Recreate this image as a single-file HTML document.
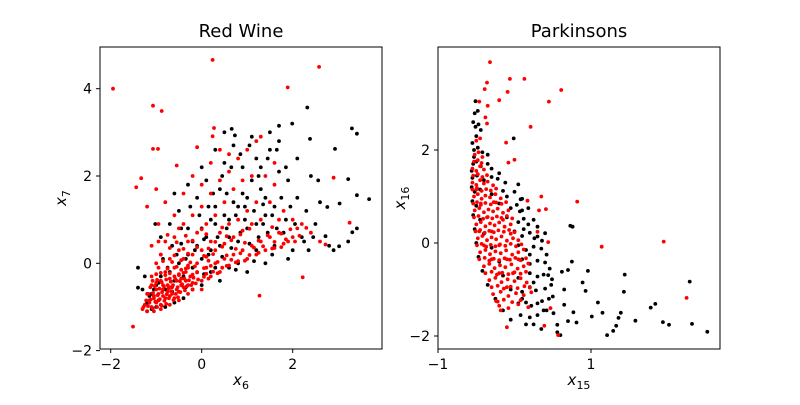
<!DOCTYPE html>
<html><head><meta charset="utf-8"><style>
body{margin:0;background:#fff;width:800px;height:400px;overflow:hidden}
svg text{font-family:"DejaVu Sans","Liberation Sans",sans-serif;fill:#000}
</style></head><body>
<svg id="chart" width="800" height="400"></svg>
<script>
// Red Wine panel data (x6, x7)
const wineBlack = [[-1.2,-0.9],[-1.1,-0.7],[-1.0,-0.5],[-0.9,-0.3],[-0.8,-0.6],[-0.7,-0.2],[-0.6,-0.4],[-0.5,0.0],[-0.4,-0.3],[-0.3,0.2],[-0.2,-0.1],[-0.1,0.4],[0,0.1],[0.1,0.6],[0.2,0.3],[0.3,0.9],[0.4,0.4],[0.5,1.1],[0.6,0.6],[0.7,1.4],[0.8,0.5],[0.9,1.6],[1.0,0.8],[1.1,1.9],[1.2,0.9],[1.3,2.2],[1.4,1.1],[1.5,2.6],[1.6,1.3],[1.7,2.1],
[-0.9,0.6],[-0.7,0.9],[-0.5,1.2],[-0.3,0.8],[-0.1,1.5],[0.1,1.9],[0.3,1.3],[0.5,2.3],[0.7,2.7],[0.9,2.2],[1.1,2.9],[1.3,1.7],[1.5,3.0],[1.7,2.8],[1.9,1.9],[2.1,1.5],[2.3,1.2],[2.5,0.9],[2.2,0.6],[2.0,0.3],[1.8,0.7],[1.6,0.4],[1.4,0.0],[1.2,0.3],[1.0,-0.2],[0.8,0.0],[0.6,-0.1],[0.4,-0.4],[0.2,-0.2],[0,-0.5],[-0.2,-0.6],[-0.4,-0.8],[-0.6,-0.9],[-0.8,-1.0],[-1.0,-1.0],[-1.2,-1.1],[-1.3,-0.6],[-1.25,-0.3],
[0.0,0.8],[-0.2,0.5],[0.2,1.0],[0.4,1.7],[0.6,1.0],[0.8,1.3],[1.0,1.5],[1.2,2.4],[1.4,1.5],[2.4,2.0],[2.6,1.4],[2.8,0.4],[2.9,0.3],[1.9,0.1],[2.1,2.4],[0.3,2.6],[0.5,3.0],[-0.6,1.6],[-0.3,1.8],[0.0,2.2],
[3.68,1.47],[3.3,3.09],[3.41,2.97],[2.32,3.57],[2.93,2.62],[3.22,1.93],[3.41,1.56],[3.41,0.8],[3.31,0.71],[3.02,0.39],[3.22,0.5],[2.76,1.29],[3.03,1.37],[2.56,1.9],[2.72,0.62],[-1.4,-0.56],[-1.4,-0.1],[-1.02,0.9],[1.99,3.2],[1.7,3.15],[0.66,3.08],[0.73,2.93],[2.38,2.85],
[-1.15,-0.75],[-1.05,-0.6],[-0.95,-0.45],[-0.75,-0.1],[-0.55,0.2],[-0.45,0.45],[-0.35,0.1],[-0.15,0.3],[0.05,0.55],[0.15,0.2],[0.35,0.6],[0.45,0.15],[0.55,0.8],[0.65,0.35],[0.75,1.1],[0.85,0.7],[0.95,1.3],[1.05,0.45],[1.15,1.2],[1.25,0.6],[1.35,1.35],[1.45,0.7],[1.55,1.1],[1.65,0.8],[1.75,1.5],[1.85,1.0],[1.95,1.3],[2.05,0.9],[2.25,0.5],[2.45,0.6],[0.25,1.6],[0.45,2.0],[0.65,2.2],[0.85,2.5],[1.05,2.7],[1.25,2.0],[1.45,2.4],[1.65,2.6],[1.85,2.2],[0.15,1.3],[-0.05,1.1],[-0.25,1.3],[-0.45,0.8],[-0.65,0.4],[-0.85,0.1],[0.55,1.6],[0.95,1.0],[1.35,0.9],[0.75,-0.15],[1.15,0.05],[1.55,0.2],[2.35,0.3],[0.05,-0.25],[-0.35,-0.55],[-0.65,-0.65],[-0.95,-0.85],[-1.1,-1.05],[0.3,-0.1]];
const wineRed = [[-1.3,-1.05],[-1.25,-0.95],[-1.2,-1.1],[-1.15,-0.85],[-1.1,-1.0],[-1.05,-0.8],[-1.0,-0.9],[-0.95,-0.7],[-0.9,-0.95],[-0.85,-0.6],[-0.8,-0.8],[-0.75,-0.5],[-0.7,-0.75],[-0.65,-0.55],[-0.6,-0.8],[-0.55,-0.4],[-0.5,-0.65],[-0.45,-0.35],[-0.4,-0.55],[-0.35,-0.2],[-0.3,-0.5],[-0.25,-0.3],[-0.2,-0.45],[-0.1,-0.2],[0,-0.4],[0.1,-0.1],[0.2,-0.3],[0.3,0.0],[0.4,-0.2],[0.5,0.1],[0.6,-0.05],[0.7,0.2],[0.8,0.05],[0.9,0.3],[1.0,0.1],[1.1,0.4],[1.2,0.2],[1.3,0.5],[1.4,0.3],[1.5,0.6],[1.6,0.35],[1.7,0.7],[1.8,0.45],[1.9,0.5],[2.0,0.6],[2.1,0.8],
[-1.2,-0.7],[-1.1,-0.5],[-1.0,-0.6],[-0.9,-0.4],[-0.8,-0.2],[-0.7,-0.35],[-0.6,-0.1],[-0.5,-0.25],[-0.4,0.1],[-0.3,-0.05],[-0.2,0.2],[-0.1,0.0],[0,0.3],[0.1,0.15],[0.2,0.5],[0.3,0.3],[0.4,0.7],[0.5,0.45],[0.6,0.9],[0.7,0.6],[0.8,1.0],[0.9,0.75],[1.0,1.2],[1.1,0.9],[1.2,1.4],[1.3,1.0],
[-1.1,-0.3],[-1.0,0.0],[-0.9,0.2],[-0.8,0.5],[-0.7,0.1],[-0.6,0.6],[-0.5,0.3],[-0.4,0.9],[-0.3,0.5],[-0.2,1.1],[-0.1,0.7],[0,1.3],[0.1,0.9],[0.2,1.6],[0.3,1.1],[0.4,1.9],[0.5,1.4],[0.6,2.1],[0.7,1.7],[0.8,2.4],[0.9,1.9],[1.0,2.6],[1.1,2.0],[1.2,2.8],[1.4,2.0],[1.6,1.8],[1.8,1.2],[2.0,1.0],[2.2,0.9],[2.4,0.7],[2.6,0.5],[1.5,1.4],[1.7,1.0],
[-1.2,1.3],[-1.0,1.7],[-0.8,1.4],[-0.6,1.1],[-0.4,1.6],[-0.2,2.0],[0,1.8],[0.2,2.3],[0.4,2.6],[0.6,2.5],[1.3,2.9],[1.6,2.3],[-1.1,0.4],[-0.95,0.9],[-0.3,-0.7],[-0.5,-0.85],[-0.7,-0.95],[-0.9,-1.05],[-1.05,-1.1],[-0.2,-0.6],[0.0,-0.6],
[-1.15,-0.9],[-1.05,-0.75],[-0.95,-0.85],[-0.85,-0.75],[-0.75,-0.65],[-0.65,-0.7],[-0.55,-0.6],[-0.45,-0.5],[-0.35,-0.4],[-1.0,-0.45],[-0.85,-0.5],[-0.7,-0.55],[-0.6,-0.3],[-0.45,-0.15],[-0.3,-0.1],
[-1.95,4.0],[0.24,4.66],[2.58,4.5],[1.89,4.03],[-1.07,3.61],[-0.88,3.49],[-1.07,2.62],[-0.96,2.62],[-0.1,2.66],[0.27,3.1],[0.24,2.91],[-1.44,1.74],[-1.33,1.95],[-0.55,2.24],[2.9,1.96],[3.25,0.93],[2.22,-0.32],[1.27,-0.74],[-1.51,-1.45],[2.72,0.43],
[-1.28,-1.0],[-1.18,-0.98],[-1.08,-1.03],[-0.98,-1.0],[-0.88,-0.97],[-0.78,-0.93],
[-1.22,-0.85],[-1.12,-0.83],[-1.02,-0.88],[-0.92,-0.82],[-0.82,-0.86],[-0.72,-0.8],[-0.62,-0.84],[-0.52,-0.78],
[-1.17,-0.7],[-1.07,-0.68],[-0.97,-0.73],[-0.87,-0.66],[-0.77,-0.71],[-0.67,-0.64],[-0.57,-0.7],[-0.47,-0.66],[-0.37,-0.62],
[-1.13,-0.55],[-1.03,-0.52],[-0.93,-0.58],[-0.83,-0.53],[-0.73,-0.57],[-0.63,-0.5],[-0.53,-0.55],[-0.43,-0.48],[-0.33,-0.53],[-0.23,-0.5],[-0.13,-0.46],
[-1.08,-0.4],[-0.98,-0.38],[-0.88,-0.43],[-0.78,-0.37],[-0.68,-0.42],[-0.58,-0.36],[-0.48,-0.41],[-0.38,-0.35],[-0.28,-0.39],[-0.18,-0.33],[-0.08,-0.37],[0.05,-0.31],[0.15,-0.35],
[-1.0,-0.25],[-0.9,-0.22],[-0.8,-0.27],[-0.7,-0.23],[-0.5,-0.27],[-0.4,-0.22],[-0.2,-0.26],[-0.1,-0.21],[0.1,-0.24],[0.25,-0.19],[0.35,-0.23],
[-0.95,-0.1],[-0.75,-0.12],[-0.55,-0.08],[-0.35,-0.12],[-0.15,-0.07],[0.05,-0.11],[0.2,-0.06],[0.45,-0.1],[0.55,-0.06],
[-0.85,0.05],[-0.65,0.03],[-0.45,0.07],[-0.25,0.02],[0.15,0.06],[0.35,0.03],[0.65,0.08],[0.75,0.02],[0.95,0.06],
[-0.9,0.2],[-0.6,0.18],[-0.3,0.22],[0.05,0.17],[0.25,0.21],[0.55,0.18],[0.85,0.23],[1.05,0.19],[1.25,0.24],
[-0.7,0.35],[-0.4,0.33],[-0.1,0.37],[0.15,0.34],[0.45,0.38],[0.75,0.33],[1.15,0.36],[1.35,0.39],[1.55,0.34],[1.75,0.37],
[-0.95,0.5],[-0.55,0.48],[-0.2,0.52],[0.3,0.49],[0.65,0.53],[0.95,0.47],[1.25,0.52],[1.6,0.49],[1.85,0.55],[2.05,0.5],
[-0.75,0.65],[-0.35,0.63],[0.1,0.67],[0.55,0.62],[0.85,0.66],[1.45,0.64],[1.75,0.68],[2.15,0.63],
[-0.5,0.8],[0.0,0.78],[0.45,0.82],[1.05,0.79],[1.55,0.83],[1.95,0.78],[2.3,0.81]];
// Parkinsons panel data (x15, x16)
const parkBlack = [[-0.51,3.05],[-0.52,2.79],[-0.48,2.84],[-0.51,2.5],[-0.44,2.43],[-0.01,2.25],[0.05,1.26],[0.08,0.94],[0.07,0.68],[0.4,0.21],[0.3,0.14],[0.76,0.35],
[2.52,-1.91],[2.32,-1.74],[2.29,-0.83],[2.02,-1.76],[1.94,-1.7],[1.84,-1.31],[1.78,-1.39],[1.58,-1.67],[1.44,-0.68],[1.43,-1.05],[1.39,-1.5],[1.36,-1.61],[1.33,-1.78],[1.29,-1.89],[1.21,-1.98],[1.15,-1.5],[1.09,-1.28],[1.01,-1.58],[0.96,-0.6],[0.93,-1.03],[0.89,-0.85],[0.81,-1.71],[0.77,-1.49],[0.75,-0.4],[0.73,0.37],[0.7,-1.68],[0.65,-1.33],[0.65,-1.0],[0.7,-0.58],[0.62,-0.62],[0.6,-1.98],[0.56,-1.92],[0.56,-1.76],[0.51,-1.51],[0.5,-1.15],[0.49,-0.78],[0.44,-0.69],
[-0.53,2.0],[-0.48,2.05],[-0.42,1.95],[-0.54,1.7],[-0.5,1.75],[-0.44,1.65],[-0.35,1.7],[-0.55,1.4],[-0.49,1.45],[-0.4,1.35],[-0.3,1.42],[-0.22,1.38],[-0.52,1.1],[-0.45,1.15],[-0.3,1.05],[-0.15,1.12],[-0.1,1.0],[-0.5,0.8],[-0.2,0.85],[-0.05,0.75],[0.03,0.82],[0.1,0.7],[-0.45,0.5],[-0.1,0.55],[0.05,0.45],[0.12,0.52],[0.18,0.4],[-0.4,0.2],[0,0.25],[0.1,0.15],[0.2,0.22],[0.26,0.1],[-0.3,-0.1],[0.05,-0.05],[0.15,-0.15],[0.25,-0.08],[0.35,-0.12],[-0.2,-0.4],[0.1,-0.35],[0.2,-0.45],[0.3,-0.38],[0.4,-0.42],[-0.15,-0.7],[0.05,-0.75],[0.2,-0.65],[0.3,-0.72],[0.38,-0.68],[-0.05,-1.0],[0.1,-1.05],[0.2,-0.95],[0.28,-1.02],[0.4,-0.98],[0.05,-1.3],[0.15,-1.28],[0.22,-1.35],[0.3,-1.3],[0.36,-1.25],[0.2,-1.6],[0.3,-1.55],[0.42,-1.45],[0.35,-1.85],
[-0.54,2.6],[-0.5,2.3],[-0.55,2.15],[-0.47,2.55],[-0.53,1.85],[-0.56,1.55],[-0.56,1.2],[-0.55,0.9],[-0.54,0.6],[-0.52,0.3],[-0.5,0.0],[-0.47,-0.3],[-0.42,-0.6],[-0.35,-0.9],[-0.25,-1.2],[-0.15,-1.45],[-0.05,-1.65],[0.08,-1.55],[0.15,-1.75],[0.25,-1.75],[-0.12,1.3],[0.0,1.1],[0.1,0.95],[0.18,0.75],[0.25,0.5],[0.3,0.35],[0.36,0.05],[0.42,-0.25],[0.46,-0.55],[0.48,-0.9],[0.45,-1.2],[0.38,-1.45],[0.12,0.3],[0.2,-0.25],[0.25,-0.85],[0.1,-1.2],[-0.3,1.6],[-0.2,1.5],[-0.35,1.9]];
const parkRed = [[1.95,0.03],[2.25,-1.18],[1.14,-0.08],[0.82,0.89],[0.61,3.29],[0.45,3.04],[0.21,2.5],[0.13,3.53],[-0.06,3.53],[-0.32,3.89],[-0.09,3.25],[-0.2,3.07],[-0.36,3.45],[-0.39,3.31],[-0.46,3.04],[-0.35,2.95],[-0.38,2.7],[-0.36,2.57],[-0.11,2.16],[0,1.79],[-0.08,1.73],[0.35,1.0],[0.41,0.73],[0.32,0.7],[0.17,0.91],[0.3,0.24],[0.44,0.02],[-0.1,-1.81],[-0.18,-1.45],[-0.22,-1.26],[0.57,-1.98],[0.39,-1.78],[0.47,-1.4],
[-0.5,2.2],[-0.45,2.25],[-0.52,1.9],[-0.47,1.95],[-0.42,1.85],[-0.55,1.6],[-0.5,1.55],[-0.45,1.65],[-0.4,1.58],
[-0.55,1.3],[-0.5,1.25],[-0.45,1.35],[-0.4,1.28],[-0.35,1.32],[-0.28,1.24],
[-0.53,1.0],[-0.48,1.05],[-0.43,0.95],[-0.38,1.02],[-0.32,0.98],[-0.25,1.05],[-0.18,0.96],
[-0.52,0.7],[-0.46,0.75],[-0.4,0.66],[-0.34,0.72],[-0.28,0.68],[-0.22,0.74],[-0.15,0.65],[-0.08,0.7],
[-0.5,0.4],[-0.44,0.45],[-0.38,0.36],[-0.32,0.42],[-0.26,0.38],[-0.2,0.44],[-0.13,0.35],[-0.05,0.4],
[-0.48,0.1],[-0.42,0.15],[-0.36,0.06],[-0.3,0.12],[-0.24,0.08],[-0.17,0.14],[-0.1,0.05],[-0.02,0.1],[0.05,0.06],
[-0.45,-0.2],[-0.38,-0.15],[-0.32,-0.24],[-0.25,-0.18],[-0.18,-0.22],[-0.11,-0.16],[-0.03,-0.25],[0.05,-0.2],[0.12,-0.14],
[-0.4,-0.5],[-0.33,-0.45],[-0.26,-0.54],[-0.19,-0.48],[-0.12,-0.52],[-0.04,-0.46],[0.04,-0.55],[0.12,-0.5],[0.18,-0.44],
[-0.33,-0.8],[-0.25,-0.75],[-0.17,-0.84],[-0.09,-0.78],[0,-0.82],[0.08,-0.76],[0.16,-0.85],
[-0.28,-1.1],[-0.18,-1.05],[-0.08,-1.14],[0.02,-1.08],[0.12,-1.12],[0.22,-1.06],
[-0.2,-1.35],[-0.08,-1.4],[0.05,-1.32],[0.18,-1.38],
[-0.5,1.15],[-0.44,0.85],[-0.36,0.55],[-0.3,0.25],[-0.2,-0.05],[-0.1,-0.35],[-0.02,-0.65],[-0.46,0.25],[-0.4,-0.05],[-0.3,-0.35],[-0.2,-0.65],[-0.1,-0.95],[-0.27,0.88],[-0.15,0.5],[-0.05,0.2],[0.05,-0.35],
[-0.53,1.75],[-0.48,1.78],[-0.43,1.72],
[-0.54,1.45],[-0.48,1.48],[-0.42,1.42],[-0.36,1.46],
[-0.55,1.15],[-0.49,1.18],[-0.43,1.12],[-0.37,1.16],[-0.31,1.13],[-0.24,1.17],
[-0.54,0.85],[-0.49,0.88],[-0.44,0.82],[-0.38,0.86],[-0.31,0.83],[-0.24,0.87],[-0.17,0.84],[-0.11,0.88],
[-0.53,0.55],[-0.47,0.58],[-0.41,0.52],[-0.35,0.56],[-0.29,0.53],[-0.23,0.57],[-0.17,0.54],[-0.1,0.58],[-0.03,0.53],
[-0.51,0.25],[-0.45,0.28],[-0.39,0.22],[-0.33,0.26],[-0.27,0.23],[-0.21,0.27],[-0.14,0.24],[-0.07,0.28],[0.0,0.23],
[-0.49,-0.05],[-0.43,-0.02],[-0.37,-0.08],[-0.31,-0.04],[-0.25,-0.07],[-0.19,-0.03],[-0.12,-0.06],[-0.05,-0.02],[0.02,-0.07],[0.09,-0.03],
[-0.46,-0.35],[-0.39,-0.32],[-0.33,-0.38],[-0.27,-0.34],[-0.2,-0.37],[-0.13,-0.33],[-0.06,-0.36],[0.01,-0.32],[0.08,-0.37],[0.15,-0.33],
[-0.38,-0.65],[-0.3,-0.62],[-0.23,-0.68],[-0.16,-0.64],[-0.08,-0.67],[0.0,-0.63],[0.08,-0.66],[0.15,-0.62],
[-0.3,-0.95],[-0.22,-0.92],[-0.14,-0.98],[-0.05,-0.94],[0.04,-0.97],[0.13,-0.93],[0.2,-0.96],
[-0.24,-1.25],[-0.14,-1.22],[-0.03,-1.27],[0.08,-1.23]];
// Tick labels
const wineXTicks = [-2, 0, 2];
const wineYTicks = [4, 2, 0, -2];
const parkXTicks = [-1, 1];
const parkYTicks = [2, 0, -2];

const NS = "http://www.w3.org/2000/svg";
const svg = document.getElementById('chart');
function mk(tag, attrs, parent){ const e=document.createElementNS(NS,tag); for(const k in attrs) e.setAttribute(k,attrs[k]); (parent||svg).appendChild(e); return e; }
function lin(d0,d1,r0,r1){ return v => r0 + (v-d0)*(r1-r0)/(d1-d0); }
function fmt(v){ return v<0 ? '\u2212'+Math.abs(v) : String(v); }

function panel(opt){
  const g = mk('g',{});
  
  
  const {L,R,T,B} = opt;
  const sx = lin(opt.xd[0],opt.xd[1],opt.xr[0],opt.xr[1]);
  const sy = lin(opt.yd[0],opt.yd[1],opt.yr[0],opt.yr[1]);
  const series = [[opt.black,'#000','black-points'],[opt.red,'#ff0000','red-points']];
  series.forEach(([pts,col,nm])=>{
    const sg = mk('g',{fill:col},g);
    
    
    pts.forEach(p=>{
      const c = mk('circle',{cx:sx(p[0]).toFixed(1),cy:sy(p[1]).toFixed(1),r:1.9},sg);
      
      
    });
  });
  const frame = mk('rect',{x:L,y:T,width:R-L,height:B-T,fill:'none',stroke:'#000','stroke-width':1},g);
  
  
  opt.xt.forEach(v=>{
    const x = sx(v);
    mk('line',{x1:x,x2:x,y1:B,y2:B+4,stroke:'#000'},g);
    const t = mk('text',{x:x,y:B+20,'text-anchor':'middle','font-size':14},g);
    t.textContent = fmt(v);
    
    
  });
  opt.yt.forEach(v=>{
    const y = sy(v);
    mk('line',{x1:L-4,x2:L,y1:y,y2:y,stroke:'#000'},g);
    const t = mk('text',{x:L-8,y:y+5,'text-anchor':'end','font-size':14},g);
    t.textContent = fmt(v);
    
    
  });
  const title = mk('text',{x:(L+R)/2,y:37,'text-anchor':'middle','font-size':18},g);
  title.textContent = opt.title;
  
  
  const xl = mk('text',{x:(L+R)/2,y:B+36,'text-anchor':'middle','font-size':15,'font-style':'italic'},g);
  xl.innerHTML = 'x<tspan font-size="11" dy="4" font-style="normal">'+opt.xs+'</tspan>';
  
  
  const yx = opt.ylx, yy=(T+B)/2;
  const yl = mk('text',{x:yx,y:yy,'text-anchor':'middle','font-size':15,'font-style':'italic',transform:'rotate(-90 '+yx+' '+yy+')'},g);
  yl.innerHTML = 'x<tspan font-size="11" dy="4" font-style="normal">'+opt.ys+'</tspan>';
  
  
}
panel({name:'red-wine-panel',title:'Red Wine',L:100,R:382,T:47,B:349,
  xd:[0,2],xr:[201.7,292.7],yd:[0,2],yr:[263.3,176],
  black:wineBlack,red:wineRed,xt:wineXTicks,yt:wineYTicks,xs:'6',ys:'7',ylx:66});
panel({name:'parkinsons-panel',title:'Parkinsons',L:438,R:720,T:47,B:349,
  xd:[-1,1],xr:[438,591],yd:[0,2],yr:[243,150],
  black:parkBlack,red:parkRed,xt:parkXTicks,yt:parkYTicks,xs:'15',ys:'16',ylx:405});
</script>
</body></html>
